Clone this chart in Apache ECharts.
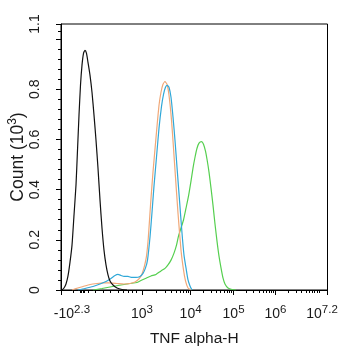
<!DOCTYPE html>
<html>
<head>
<meta charset="utf-8">
<script src="https://cdn.jsdelivr.net/npm/echarts@6/dist/echarts.min.js"></script>
<style>
html,body{margin:0;padding:0;background:#fff;}
#chart{width:343px;height:350px;}
</style>
</head>
<body>
<div id="chart"></div>
<script>
// ---- Axis definitions (channel scale 0..1024, counts in thousands) ----
const channelMin = 0;
const channelMax = 1024;
const countMin = 0;
const countMax = 1.06;

const xMajorTicks = [0, 311, 498, 663, 824, 1024];
const xLowMinorTicks = [46, 73, 79, 84.5, 90, 104, 131, 161, 188, 219, 238, 257, 273, 288];
const xDecadeStarts = [311, 498, 663, 824];
const xDecadeEnds = [498, 663, 824, 991];
const xLabelValues = [42, 311, 498, 663, 824, 1003];
const xLabelBases = ['-10', '10', '10', '10', '10', '10'];
const xLabelExps = ['2.3', '3', '4', '5', '6', '7.2'];

const yMajorTicks = [0, 0.2, 0.4, 0.6, 0.8, 1.0, 1.06];
const yMinorTicks = [0.04,0.08,0.12,0.16,0.24,0.28,0.32,0.36,0.44,0.48,0.52,0.56,0.64,0.68,0.72,0.76,0.84,0.88,0.92,0.96,1.03];
const yLabelValues = [0, 0.2, 0.4, 0.6, 0.8, 1.06];
const yLabelTexts = ['0', '0.2', '0.4', '0.6', '0.8', '1.1'];

// ---- Histogram series ----
const blackX = [3.8,11.5,19.2,26.9,34.6,42.3,50.0,57.6,63.4,69.2,74.9,80.7,86.5,92.2,98.0,103.7,111.4,119.1,126.8,134.5,142.1,149.9,157.5,165.2,172.9,180.6,188.3,199.8,215.2,234.4,253.6];
const blackY = [0,0.008,0.024,0.056,0.111,0.179,0.299,0.418,0.557,0.697,0.816,0.896,0.943,0.955,0.943,0.907,0.856,0.788,0.697,0.597,0.486,0.358,0.247,0.159,0.10,0.060,0.036,0.02,0.008,0.002,0];

const orangeX = [42.3,57.6,84.5,111.4,138.3,165.2,188.3,215.2,242.1,265.1,284.3,299.7,311.2,320.8,328.5,335.4,343.9,353.5,366.9,376.6,384.2,391.9,399.6,407.3,415.0,424.6,432.3,438.0,449.6,461.1,470.7,478.4,488.0,501.4];
const orangeY = [0,0.006,0.014,0.022,0.026,0.028,0.028,0.026,0.024,0.026,0.032,0.044,0.064,0.096,0.135,0.207,0.338,0.470,0.629,0.736,0.788,0.820,0.830,0.820,0.776,0.677,0.565,0.478,0.306,0.159,0.080,0.036,0.008,0];

const blueX = [65.3,92.2,123.0,149.9,172.9,192.1,207.5,219.0,230.5,242.1,257.4,272.8,288.2,303.5,315.1,324.7,332.4,342.0,349.7,357.3,366.9,376.6,386.2,393.9,401.5,408.4,415.0,422.7,430.4,438.0,445.7,455.3,464.9,472.6,480.3,488.0,495.7,503.3];
const blueY = [0,0.006,0.014,0.024,0.034,0.046,0.058,0.062,0.058,0.054,0.054,0.050,0.050,0.054,0.066,0.088,0.119,0.211,0.310,0.414,0.529,0.645,0.732,0.780,0.808,0.816,0.808,0.768,0.689,0.597,0.490,0.358,0.227,0.139,0.088,0.040,0.016,0];

const greenX = [123.0,157.5,188.3,219.0,242.1,265.1,292.0,311.2,328.5,345.8,365.0,384.2,399.6,411.1,422.7,434.2,443.8,451.5,461.1,470.7,480.3,489.9,499.5,507.2,514.9,522.6,530.3,539.9,547.5,555.2,561.0,568.7,576.4,584.0,591.7,599.4,607.1,614.8,622.4,630.1,641.7,657.0,672.4];
const greenY = [0,0.006,0.012,0.018,0.022,0.026,0.030,0.040,0.048,0.056,0.062,0.076,0.086,0.100,0.119,0.147,0.179,0.215,0.247,0.279,0.326,0.374,0.434,0.486,0.529,0.565,0.585,0.591,0.581,0.553,0.521,0.470,0.406,0.338,0.263,0.195,0.135,0.088,0.048,0.024,0.008,0.002,0];

// ---- Build ----
const xMinorTicks = xLowMinorTicks.slice();
xDecadeStarts.forEach((s, i) => {
  const e = xDecadeEnds[i];
  for (let k = 2; k <= 10; k++) {
    const v = s + Math.log10(k) * (e - s);
    if (v < channelMax) xMinorTicks.push(v);
  }
});

function pairs(xs, ys) { return xs.map((x, i) => [x, ys[i]]); }
function findIdx(arr, v) { return arr.findIndex(a => Math.abs(a - v) < 1e-6); }

const FONT = "'Liberation Sans', Arial, sans-serif";
const TXT = '#1a1a1a';

const chart = echarts.init(document.getElementById('chart'), null, {renderer: 'canvas'});
chart.setOption({
  animation: false,
  backgroundColor: '#fff',
  grid: {left: 61, right: 15.5, top: 24, bottom: 60, show: true, borderColor: '#000', borderWidth: 1,
         containLabel: false, outerBoundsMode: 'none'},
  xAxis: [
    {
      type: 'value', min: channelMin, max: channelMax, position: 'bottom',
      name: 'TNF alpha-H', nameLocation: 'middle', nameGap: 41, nameMoveOverlap: false,
      nameTextStyle: {fontFamily: FONT, fontSize: 15.5, color: TXT},
      axisLine: {show: true, lineStyle: {color: '#000', width: 1}},
      axisTick: {show: true, length: 5, customValues: xMajorTicks, lineStyle: {color: '#000'}},
      axisLabel: {
        show: true, customValues: xLabelValues, margin: 14,
        formatter: v => { const i = findIdx(xLabelValues, v); return i < 0 ? '' : '{b|' + xLabelBases[i] + '}{s|' + xLabelExps[i] + '}'; },
        rich: {
          b: {fontFamily: FONT, fontSize: 14, color: TXT},
          s: {fontFamily: FONT, fontSize: 11.5, color: TXT, padding: [0, 0, 9, 0]}
        }
      },
      splitLine: {show: false}
    },
    {
      type: 'value', min: channelMin, max: channelMax, position: 'bottom',
      axisLine: {show: false},
      axisTick: {show: true, length: 3, customValues: xMinorTicks, lineStyle: {color: '#000'}},
      axisLabel: {show: false},
      splitLine: {show: false}
    }
  ],
  yAxis: [
    {
      type: 'value', min: countMin, max: countMax, position: 'left',
      name: 'Count (10{s|3})', nameLocation: 'middle', nameGap: 32, nameRotate: 90, nameMoveOverlap: false,
      nameTextStyle: {fontFamily: FONT, fontSize: 17.5, color: TXT,
        rich: {s: {fontFamily: FONT, fontSize: 12, color: TXT, padding: [0, 0, 10, 0]}}},
      axisLine: {show: true, lineStyle: {color: '#000', width: 1}},
      axisTick: {show: true, length: 5, customValues: yMajorTicks, lineStyle: {color: '#000'}},
      axisLabel: {
        show: true, customValues: yLabelValues, rotate: 90, margin: 19,
        fontFamily: FONT, fontSize: 14, color: TXT,
        formatter: v => { const i = findIdx(yLabelValues, v); return i < 0 ? '' : yLabelTexts[i]; }
      },
      splitLine: {show: false}
    },
    {
      type: 'value', min: countMin, max: countMax, position: 'left',
      axisLine: {show: false},
      axisTick: {show: true, length: 3, customValues: yMinorTicks, lineStyle: {color: '#000'}},
      axisLabel: {show: false},
      splitLine: {show: false}
    }
  ],
  series: [
    {name: 'green', type: 'line', data: pairs(greenX, greenY), showSymbol: false, smooth: 0.2, lineStyle: {color: '#55cf4f', width: 1.2}},
    {name: 'orange', type: 'line', data: pairs(orangeX, orangeY), showSymbol: false, smooth: 0.2, lineStyle: {color: '#f0a878', width: 1.2}},
    {name: 'blue', type: 'line', data: pairs(blueX, blueY), showSymbol: false, smooth: 0.2, lineStyle: {color: '#30a8d8', width: 1.2}},
    {name: 'black', type: 'line', data: pairs(blackX, blackY), showSymbol: false, smooth: 0.2, lineStyle: {color: '#111', width: 1.2}}
  ]
});
</script>
</body>
</html>
